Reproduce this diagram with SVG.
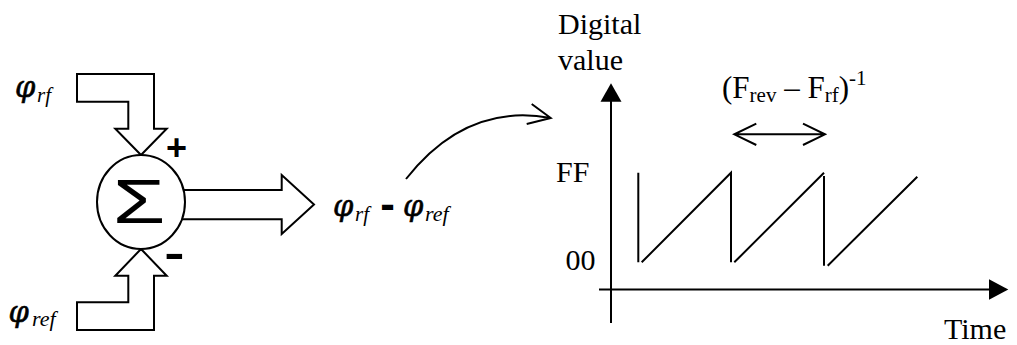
<svg xmlns="http://www.w3.org/2000/svg" width="1017" height="345" viewBox="0 0 1017 345">
<defs>
<style>
.ln{fill:none;stroke:#000;stroke-width:2;stroke-linejoin:miter}
.blk{fill:#fff;stroke:#000;stroke-width:2;stroke-linejoin:miter}
.ser{font-family:"Liberation Serif","Times New Roman",serif;fill:#000}
.it{font-family:"Liberation Serif","Times New Roman",serif;font-style:italic;fill:#000}
.phi{font-family:"DejaVu Serif","Liberation Serif",serif;font-style:italic;font-size:29px;fill:#000;stroke:#000;stroke-width:0.6}
.sans{font-family:"Liberation Sans",Arial,sans-serif;fill:#000}
.head{fill:#000;stroke:none}
</style>
</defs>
<rect width="1017" height="345" fill="#fff"/>
<g id="connectors">
  <polygon id="arrow-rf" class="blk" points="77,74 154,74 154,128.7 166.7,128.7 141,155 115.3,128.7 128.3,128.7 128.3,101.7 77,101.7"/>
  <polygon id="arrow-ref" class="blk" points="141,249 166.7,275.7 154,275.7 154,330 77,330 77,302.3 128.3,302.3 128.3,275.7 115.3,275.7"/>
  <polygon id="arrow-out" class="blk" points="165,190 281.7,190 281.7,175 314,204.6 281.7,234 281.7,219.3 165,219.3"/>
  <path id="curve-arrow" class="ln" d="M406,179 C435,142 480,105 550.7,118 M531.7,104 L550.7,118 L526.7,124"/>
</g>
<g id="summer">
  <ellipse cx="141" cy="202" rx="44" ry="47" class="blk"/>
  <text class="sans" font-size="63" text-anchor="middle" transform="translate(139,222.7) scale(1.35,1)">Σ</text>
  <text class="sans" font-size="36" font-weight="bold" text-anchor="middle" x="176.5" y="160">+</text>
  <text class="sans" font-size="42" font-weight="bold" text-anchor="middle" transform="translate(174.5,268) scale(1.45,1)">-</text>
</g>
<g id="label-rf">
  <text class="phi" x="15" y="97">φ</text>
  <text class="it" font-size="21" x="37" y="102">rf</text>
</g>
<g id="label-ref">
  <text class="phi" x="8.5" y="322">φ</text>
  <text class="it" font-size="22" x="32" y="326">ref</text>
</g>
<g id="label-diff">
  <text class="phi" x="333" y="216">φ</text>
  <text class="it" font-size="21" x="355" y="221">rf</text>
  <text class="sans" font-size="44" font-weight="bold" text-anchor="middle" x="387.5" y="218.8">-</text>
  <text class="phi" x="403" y="216">φ</text>
  <text class="it" font-size="22" x="425" y="221">ref</text>
</g>
<g id="graph">
  <line class="ln" x1="611" y1="323" x2="611" y2="100"/>
  <polygon class="head" points="611,83.3 621.5,101.7 600.5,101.7"/>
  <line class="ln" x1="599" y1="289.5" x2="990" y2="289.5"/>
  <polygon class="head" points="1008.3,289.5 989,279.3 989,299.7"/>
  <path class="ln" d="M638.3,172.7 V262.3 M641.7,262.3 L731,172.7 V262.3 M734.3,262.3 L824,172.7 M824,176 V265.7 M827.7,265.7 L917.3,176.7" stroke-width="1.8"/>
  <path class="ln" d="M734.3,134.3 H825 M756.3,123.6 L734.3,134.3 L756.3,145 M803,123.6 L825,134.3 L803,145" stroke-width="1.8"/>
  <text class="ser" font-size="30" x="558" y="34">Digital</text>
  <text class="ser" font-size="30" x="558" y="70">value</text>
  <text class="ser" font-size="31" x="722" y="98">(F<tspan font-size="21" dy="4">rev</tspan><tspan dy="-4"> – F</tspan><tspan font-size="21" dy="4">rf</tspan><tspan dy="-4">)</tspan><tspan font-size="21" dy="-13">-1</tspan></text>
  <text class="ser" font-size="30" x="556" y="181.7">FF</text>
  <text class="ser" font-size="30" text-anchor="end" x="595.5" y="270">00</text>
  <text class="ser" font-size="30" x="944" y="339.3">Time</text>
</g>
</svg>
